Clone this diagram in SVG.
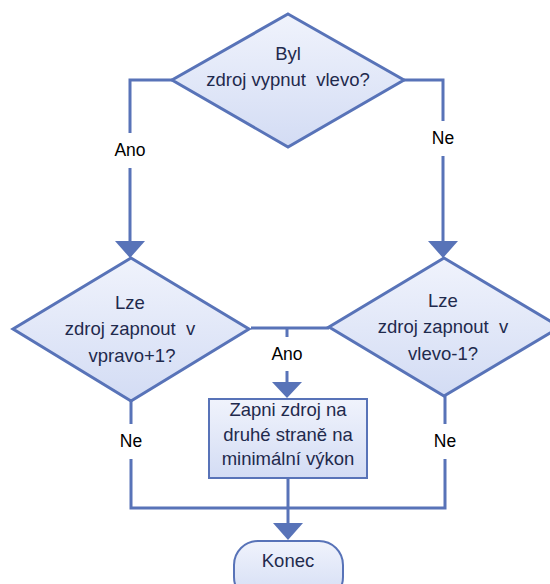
<svg xmlns="http://www.w3.org/2000/svg" width="550" height="584" viewBox="0 0 550 584">
<defs>
<linearGradient id="g" x1="0" y1="0" x2="0" y2="1">
<stop offset="0" stop-color="#f0f3fc"/>
<stop offset="1" stop-color="#d3dcf4"/>
</linearGradient>
</defs>
<style>
.shape{fill:url(#g);stroke:#5873b8;stroke-width:3}
.txt{font-family:"Liberation Sans",Arial,sans-serif;font-size:18.5px;fill:#1f2a4d;text-anchor:middle}
.lbl{font-family:"Liberation Sans",Arial,sans-serif;font-size:17.5px;fill:#000;text-anchor:middle}
.ln{fill:none;stroke:#5873b8;stroke-width:3}
.bg{fill:#fff}
.ah{fill:#5873b8}
</style>
<rect width="550" height="584" fill="#fff"/>
<g id="connectors">
<polyline class="ln" points="172,80 130,80 130,245"/>
<polyline class="ln" points="404,80 443,80 443,245"/>
<polyline class="ln" points="251,328 329,328"/>
<polyline class="ln" points="287,328 287,386"/>
<polyline class="ln" points="131,400 131,508 445,508 445,394"/>
<polyline class="ln" points="288,478 288,527"/>
<path class="ah" d="M115,241 L145,241 L130,258 Z"/>
<path class="ah" d="M428,241 L458,241 L443,258 Z"/>
<path class="ah" d="M272,382 L302,382 L287,398 Z"/>
<path class="ah" d="M273,523 L303,523 L288,540 Z"/>
<rect class="bg" x="106" y="133" width="48" height="35"/>
<text class="lbl" x="130" y="156">Ano</text>
<rect class="bg" x="426" y="121" width="34" height="35"/>
<text class="lbl" x="443" y="144">Ne</text>
<rect class="bg" x="263" y="337" width="48" height="34"/>
<text class="lbl" x="287" y="360">Ano</text>
<rect class="bg" x="114" y="424" width="34" height="35"/>
<text class="lbl" x="131" y="447">Ne</text>
<rect class="bg" x="428" y="424" width="34" height="35"/>
<text class="lbl" x="445" y="447">Ne</text>
</g>
<g id="d1">
<polygon class="shape" points="288,14 404,80 288,147 172,80"/>
<text class="txt" x="288" y="60">Byl</text>
<text class="txt" x="288" y="86" xml:space="preserve">zdroj vypnut  vlevo?</text>
</g>
<g id="d2">
<polygon class="shape" points="131,258 249,329 131,401 13,329"/>
<text class="txt" x="130" y="309">Lze</text>
<text class="txt" x="130" y="335" xml:space="preserve">zdroj zapnout  v</text>
<text class="txt" x="132" y="362">vpravo+1?</text>
</g>
<g id="d3">
<polygon class="shape" points="444,258 560,327 444,396 329,327"/>
<text class="txt" x="443" y="307">Lze</text>
<text class="txt" x="443" y="333" xml:space="preserve">zdroj zapnout  v</text>
<text class="txt" x="443" y="360">vlevo-1?</text>
</g>
<g id="box">
<rect class="shape" x="209" y="399" width="158" height="79" style="stroke-width:2"/>
<text class="txt" x="288" y="416">Zapni zdroj na</text>
<text class="txt" x="288" y="441">druhé straně na</text>
<text class="txt" x="288" y="465">minimální výkon</text>
</g>
<g id="konec">
<rect class="shape" x="234" y="541" width="109" height="60" rx="24" ry="24" style="stroke-width:2"/>
<text class="txt" x="288" y="567">Konec</text>
</g>
</svg>
